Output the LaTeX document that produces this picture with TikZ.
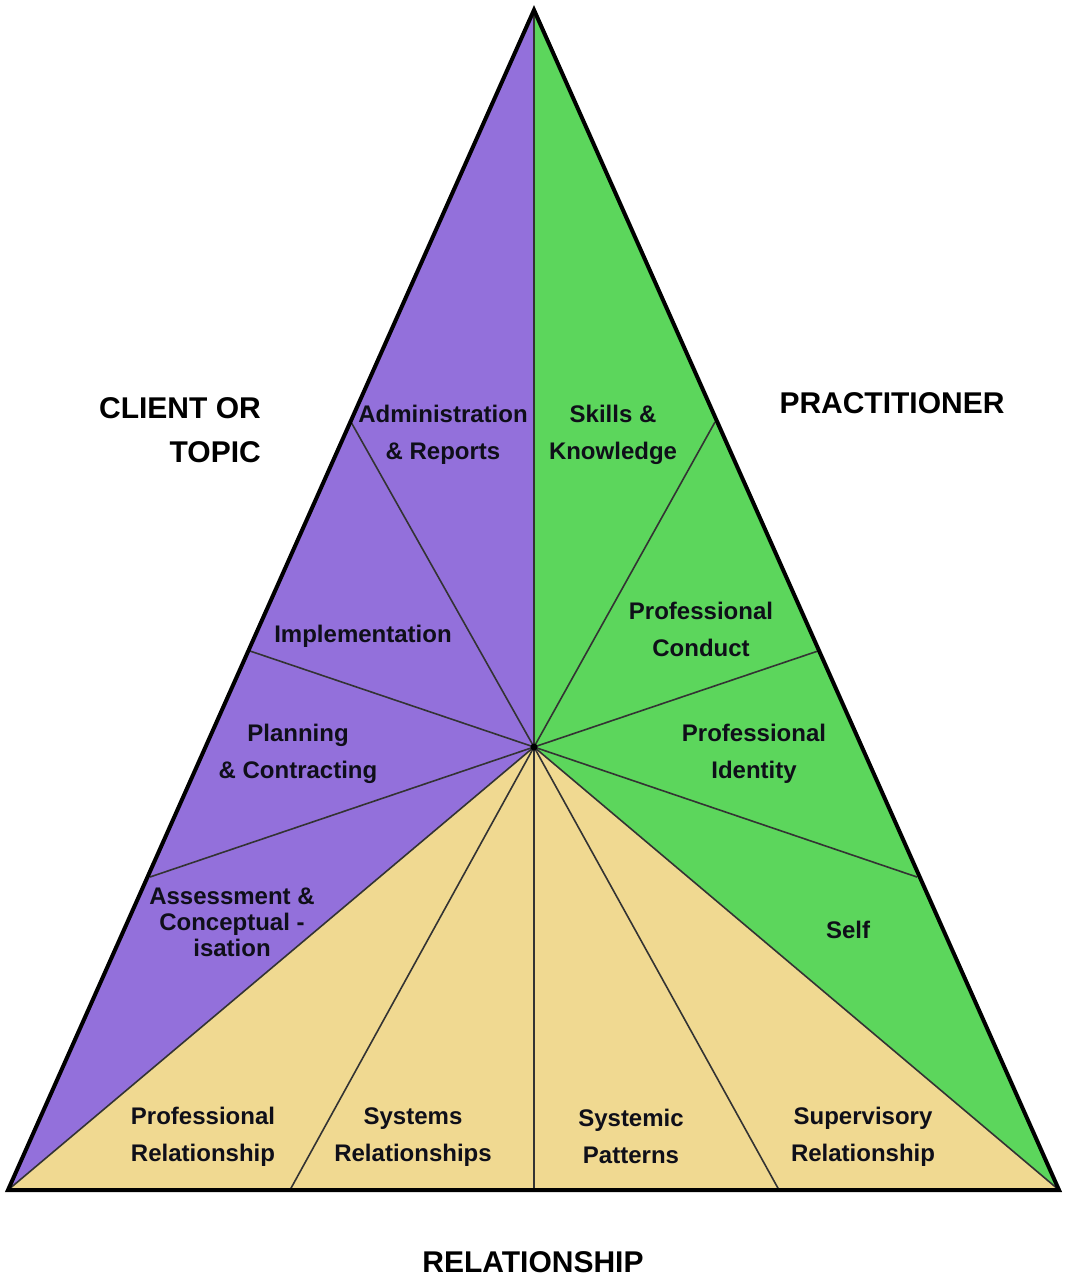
\documentclass[tikz,border=0pt]{standalone}
\usepackage{fontspec}
\setmainfont{Liberation Sans}
\definecolor{purp}{RGB}{147,112,219}
\definecolor{grn}{RGB}{92,214,92}
\definecolor{yel}{RGB}{240,217,145}
\definecolor{ink}{RGB}{15,15,25}
\begin{document}
\begin{tikzpicture}[x=1pt,y=-1pt,
  lbl/.style={align=center,text=ink,font=\bfseries\fontsize{24}{37}\selectfont,inner sep=0pt},
  lbltight/.style={align=center,text=ink,font=\bfseries\fontsize{24}{26}\selectfont,inner sep=0pt},
  head/.style={text=black,font=\bfseries\fontsize{30}{44}\selectfont,inner sep=0pt},
  divider/.style={draw=black!80,line width=1.6pt},
  rim/.style={draw=black,line width=4pt,line join=miter}]
\useasboundingbox (0,0) rectangle (1065,1277);
\coordinate (A) at (534,10);
\coordinate (L) at (8,1190);
\coordinate (R) at (1059,1190);
\coordinate (C) at (534,747);
\coordinate (l1) at (351,422);
\coordinate (l2) at (250,651);
\coordinate (l3) at (150,877);
\coordinate (r1) at (715,422);
\coordinate (r2) at (818,651);
\coordinate (r3) at (917,877);
\coordinate (b1) at (290,1190);
\coordinate (b2) at (534,1190);
\coordinate (b3) at (779,1190);
\fill[purp] (C) -- (A) -- (L) -- cycle;
\fill[grn] (C) -- (A) -- (R) -- cycle;
\fill[yel] (C) -- (L) -- (R) -- cycle;
\foreach \p in {A,L,R,l1,l2,l3,r1,r2,r3,b1,b2,b3} \draw[divider] (C) -- (\p);
\draw[rim] (A) -- (L) -- (R) -- cycle;
\fill[black] (C) circle (3.5pt);
% labels
\node[lbl] (adm) at (443,435) {Administration\\\& Reports};
\node[lbl] (ski) at (613,435) {Skills \&\\Knowledge};
\node[lbl] (imp) at (363,636) {Implementation};
\node[lbl] (con) at (701,629) {Professional\\Conduct};
\node[lbl] (pla) at (298,754) {Planning\\\& Contracting};
\node[lbl] (ide) at (754,754) {Professional\\Identity};
\node[lbltight] (ass) at (232,922) {Assessment \&\\Conceptual -\\isation};
\node[lbl] (sel) at (848,930) {Self};
\node[lbl] (pro) at (203,1137) {Professional\\Relationship};
\node[lbl] (sys) at (413,1137) {Systems\\Relationships};
\node[lbl] (pat) at (631,1136) {Systemic\\Patterns};
\node[lbl] (sup) at (863,1137) {Supervisory\\Relationship};
\node[head,align=right,anchor=east] (cli) at (261,430) {CLIENT OR\\TOPIC};
\node[head] (pra) at (892,403) {PRACTITIONER};
\node[head] (rel) at (533,1262) {RELATIONSHIP};
\end{tikzpicture}
\end{document}
